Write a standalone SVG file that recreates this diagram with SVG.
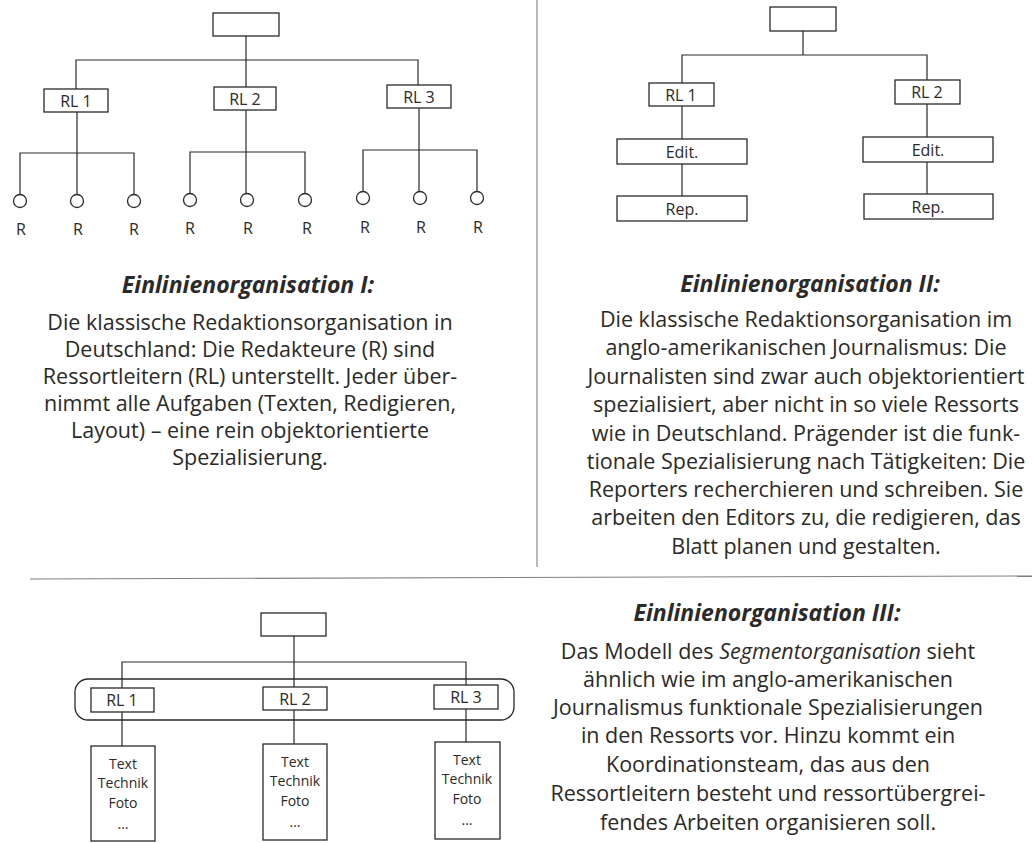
<svg xmlns="http://www.w3.org/2000/svg" width="1032" height="843" viewBox="0 0 1032 843">
  <style>
    .box { fill: #fff; stroke: #2a2a2a; stroke-width: 1.3; }
    .ln { fill: none; stroke: #2a2a2a; stroke-width: 1.2; }
    .sep { fill: none; stroke: #808080; stroke-width: 1.1; }
    .lbl { font-family: "Open Sans", "Noto Sans", sans-serif; font-size: 16px; fill: #2a2a2a; text-anchor: middle; }
    .small { font-family: "Open Sans", "Noto Sans", sans-serif; font-size: 14px; fill: #2a2a2a; text-anchor: middle; }
    .title { font-family: "Open Sans", "Noto Sans", sans-serif; font-size: 23px; font-weight: bold; font-style: italic; fill: #2a2a2a; text-anchor: middle; }
    .body { font-family: "Open Sans", "Noto Sans", sans-serif; font-size: 21.5px; fill: #2a2a2a; text-anchor: middle; }
  </style>
  <rect width="1032" height="843" fill="#fff"/>

  <!-- page separators -->
  <g id="separators">
    <line class="sep" x1="537" y1="0" x2="537" y2="567"/>
    <line class="sep" x1="30" y1="579" x2="1032" y2="576"/>
  </g>

  <!-- ===== Diagram I ===== -->
  <g id="d1-connectors">
    <path class="ln" d="M246,36 V60 M76,89 V60 H418 V85 M246,60 V87"/>
    <path class="ln" d="M77,112 V194 M20,194 V153 H134 V194"/>
    <path class="ln" d="M246,110 V194 M190,194 V152 H305 V194"/>
    <path class="ln" d="M419,108 V192 M363,192 V150 H477 V192"/>
  </g>
  <g id="d1-top"><rect class="box" x="213" y="13" width="66" height="23"/></g>
  <g id="d1-rl1"><rect class="box" x="44" y="89" width="64" height="23"/><text class="lbl" x="76" y="106.5">RL 1</text></g>
  <g id="d1-rl2"><rect class="box" x="214" y="87" width="62" height="23"/><text class="lbl" x="245" y="104.5">RL 2</text></g>
  <g id="d1-rl3"><rect class="box" x="387" y="85" width="64" height="23"/><text class="lbl" x="419" y="102.5">RL 3</text></g>
  <g id="d1-r1"><circle class="box" cx="20" cy="201" r="6.5"/><text class="lbl" x="21" y="235">R</text></g>
  <g id="d1-r2"><circle class="box" cx="77" cy="201" r="6.5"/><text class="lbl" x="78" y="235">R</text></g>
  <g id="d1-r3"><circle class="box" cx="134" cy="201" r="6.5"/><text class="lbl" x="134" y="235">R</text></g>
  <g id="d1-r4"><circle class="box" cx="190" cy="200" r="6.5"/><text class="lbl" x="190" y="234">R</text></g>
  <g id="d1-r5"><circle class="box" cx="247" cy="200" r="6.5"/><text class="lbl" x="248" y="234">R</text></g>
  <g id="d1-r6"><circle class="box" cx="305" cy="200" r="6.5"/><text class="lbl" x="307" y="234">R</text></g>
  <g id="d1-r7"><circle class="box" cx="363" cy="198" r="6.5"/><text class="lbl" x="365" y="233">R</text></g>
  <g id="d1-r8"><circle class="box" cx="420" cy="198" r="6.5"/><text class="lbl" x="421" y="233">R</text></g>
  <g id="d1-r9"><circle class="box" cx="477" cy="198" r="6.5"/><text class="lbl" x="478" y="233">R</text></g>

  <g id="text1">
    <text class="title" x="248" y="293">Einlinienorganisation I:</text>
    <text class="body" x="250" y="330">Die klassische Redaktionsorganisation in</text>
    <text class="body" x="250" y="357">Deutschland: Die Redakteure (R) sind</text>
    <text class="body" x="250" y="384">Ressortleitern (RL) unterstellt. Jeder über-</text>
    <text class="body" x="250" y="411">nimmt alle Aufgaben (Texten, Redigieren,</text>
    <text class="body" x="250" y="438">Layout) – eine rein objektorientierte</text>
    <text class="body" x="250" y="465">Spezialisierung.</text>
  </g>

  <!-- ===== Diagram II ===== -->
  <g id="d2-connectors">
    <path class="ln" d="M803,31 V55 M682,83 V55 H927 V80"/>
    <path class="ln" d="M682,106 V139 M682,164 V196"/>
    <path class="ln" d="M927,104 V137 M927,162 V194"/>
  </g>
  <g id="d2-top"><rect class="box" x="770" y="7" width="66" height="24"/></g>
  <g id="d2-rl1"><rect class="box" x="649" y="83" width="65" height="23"/><text class="lbl" x="681" y="100.5">RL 1</text></g>
  <g id="d2-rl2"><rect class="box" x="895" y="80" width="65" height="24"/><text class="lbl" x="927" y="98">RL 2</text></g>
  <g id="d2-edit1"><rect class="box" x="617" y="139" width="130" height="25"/><text class="lbl" x="682" y="157.5">Edit.</text></g>
  <g id="d2-edit2"><rect class="box" x="863" y="137" width="130" height="25"/><text class="lbl" x="928" y="155.5">Edit.</text></g>
  <g id="d2-rep1"><rect class="box" x="617" y="196" width="130" height="25"/><text class="lbl" x="682" y="214.5">Rep.</text></g>
  <g id="d2-rep2"><rect class="box" x="864" y="194" width="129" height="25"/><text class="lbl" x="928" y="212.5">Rep.</text></g>

  <g id="text2">
    <text class="title" x="810" y="292">Einlinienorganisation II:</text>
    <text class="body" x="806" y="327">Die klassische Redaktionsorganisation im</text>
    <text class="body" x="806" y="355">anglo-amerikanischen Journalismus: Die</text>
    <text class="body" x="806" y="384">Journalisten sind zwar auch objektorientiert</text>
    <text class="body" x="806" y="412">spezialisiert, aber nicht in so viele Ressorts</text>
    <text class="body" x="806" y="441">wie in Deutschland. Prägender ist die funk-</text>
    <text class="body" x="806" y="469">tionale Spezialisierung nach Tätigkeiten: Die</text>
    <text class="body" x="806" y="497">Reporters recherchieren und schreiben. Sie</text>
    <text class="body" x="806" y="525">arbeiten den Editors zu, die redigieren, das</text>
    <text class="body" x="806" y="554">Blatt planen und gestalten.</text>
  </g>

  <!-- ===== Diagram III ===== -->
  <g id="d3-team"><rect class="box" x="75" y="679" width="439" height="41" rx="13" ry="13" style="fill:none"/></g>
  <g id="d3-connectors">
    <path class="ln" d="M294,636 V687 M122,688 V662 H466 V685"/>
    <path class="ln" d="M122,712 V746 M294,710 V744 M466,709 V742"/>
  </g>
  <g id="d3-top"><rect class="box" x="261" y="613" width="65" height="23"/></g>
  <g id="d3-rl1"><rect class="box" x="91" y="688" width="63" height="24"/><text class="lbl" x="122" y="706">RL 1</text></g>
  <g id="d3-rl2"><rect class="box" x="263" y="687" width="64" height="23"/><text class="lbl" x="295" y="704.5">RL 2</text></g>
  <g id="d3-rl3"><rect class="box" x="434" y="685" width="64" height="24"/><text class="lbl" x="466" y="703">RL 3</text></g>
  <g id="d3-sub1"><rect class="box" x="91" y="746" width="64" height="95"/>
    <text class="small" x="123" y="769">Text</text><text class="small" x="123" y="788">Technik</text><text class="small" x="123" y="808">Foto</text><text class="small" x="123" y="829">...</text></g>
  <g id="d3-sub2"><rect class="box" x="263" y="744" width="64" height="96"/>
    <text class="small" x="295" y="767">Text</text><text class="small" x="295" y="786">Technik</text><text class="small" x="295" y="806">Foto</text><text class="small" x="295" y="827">...</text></g>
  <g id="d3-sub3"><rect class="box" x="435" y="742" width="65" height="97"/>
    <text class="small" x="467" y="765">Text</text><text class="small" x="467" y="784">Technik</text><text class="small" x="467" y="804">Foto</text><text class="small" x="467" y="825">...</text></g>

  <g id="text3">
    <text class="title" x="767" y="621">Einlinienorganisation III:</text>
    <text class="body" x="768" y="659">Das Modell des <tspan font-style="italic">Segmentorganisation</tspan> sieht</text>
    <text class="body" x="768" y="687">ähnlich wie im anglo-amerikanischen</text>
    <text class="body" x="768" y="715">Journalismus funktionale Spezialisierungen</text>
    <text class="body" x="768" y="743">in den Ressorts vor. Hinzu kommt ein</text>
    <text class="body" x="768" y="772">Koordinationsteam, das aus den</text>
    <text class="body" x="768" y="801">Ressortleitern besteht und ressortübergrei-</text>
    <text class="body" x="768" y="830">fendes Arbeiten organisieren soll.</text>
  </g>
</svg>
